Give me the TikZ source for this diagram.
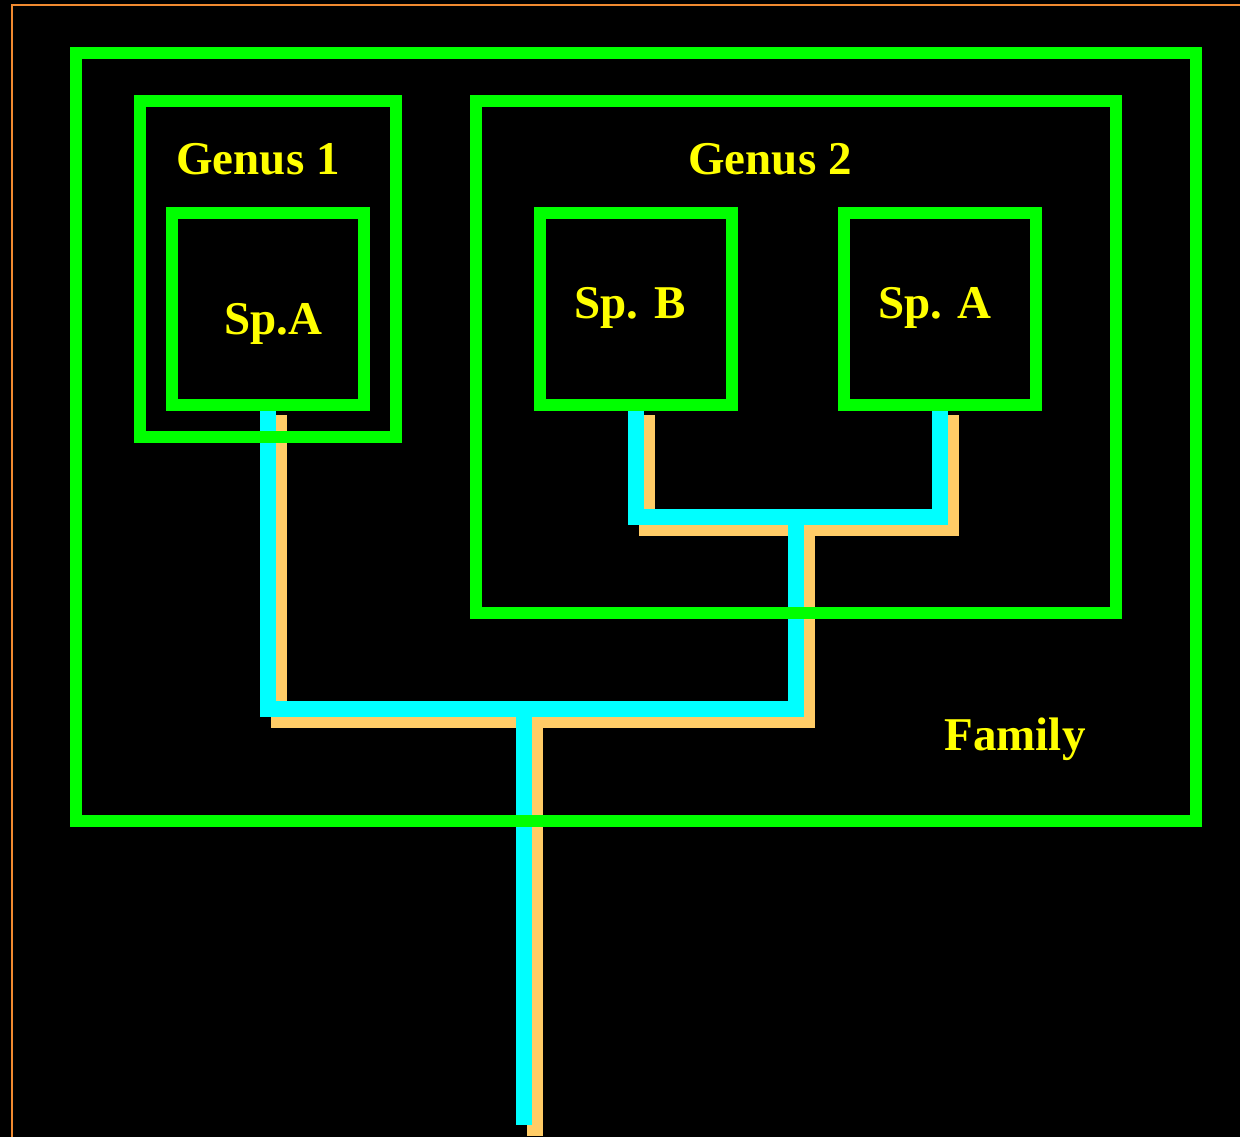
\documentclass[tikz,border=0pt]{standalone}
\usepackage{fontspec}
\setmainfont{Liberation Serif}
\usetikzlibrary{fit}
\pgfdeclarelayer{bglayer}
\pgfdeclarelayer{treelayer}
\pgfsetlayers{bglayer,treelayer,main}
\definecolor{grn}{HTML}{00FF00}
\definecolor{cyn}{HTML}{00FFFF}
\definecolor{org}{HTML}{FFCC66}
\definecolor{brd}{HTML}{F08A30}
\definecolor{ylw}{HTML}{FFFF00}
\tikzset{
  taxbox/.style={draw=grn, line width=6pt, inner sep=0pt, outer sep=0pt, line join=miter},
  lbl/.style={text=ylw, font=\fontsize{23.5}{28}\selectfont\bfseries, inner sep=0pt, anchor=base},
  cyanline/.style={draw=cyn, line width=8pt, line join=miter, line cap=butt},
  orangeline/.style={draw=org, line width=8pt, line join=miter, line cap=butt},
}
\begin{document}
\begin{tikzpicture}[x=0.5pt, y=-0.5pt]
\begin{pgfonlayer}{bglayer}
\fill[black] (0,0) rectangle (1240,1137);
\useasboundingbox (0,0) rectangle (1240,1137);
\draw[brd, line width=1.3pt] (12,1137) -- (12,5) -- (1240,5);
\end{pgfonlayer}

% boxes
\node[taxbox, fit={(76,53)(1196,821)}] (family) {};
\node[taxbox, fit={(140,101)(396,437)}] (genus1) {};
\node[taxbox, fit={(476,101)(1116,613)}] (genus2) {};
\node[taxbox, fit={(172,213)(364,405)}] (spA1) {};
\node[taxbox, fit={(540,213)(732,405)}] (spB) {};
\node[taxbox, fit={(844,213)(1036,405)}] (spA2) {};

% labels
\node[lbl] (g1lbl) at (258,175) {Genus 1};
\node[lbl] (g2lbl) at (770,175) {Genus 2};
\node[lbl] (spA1lbl) at (273,335) {Sp.A};
\node[lbl] (spBlbl) at (630,319) {Sp. B};
\node[lbl] (spA2lbl) at (935,319) {Sp. A};
\node[lbl] (famlbl) at (1015,750) {Family};

% junctions
\coordinate (g2join) at (796,517);
\coordinate (famjoin) at (524,709);
\coordinate (root) at (524,1125);

\begin{pgfonlayer}{treelayer}
% orange shadow tree (offset copy)
\draw[orangeline] ([shift={(11,10)}]spB.south) |- ([shift={(11,11)}]g2join) -| ([shift={(11,10)}]spA2.south);
\draw[orangeline] ([shift={(11,10)}]spA1.south) |- ([shift={(11,11)}]famjoin) -| ([shift={(11,11)}]g2join);
\draw[orangeline] ([shift={(11,11)}]famjoin) -- ([shift={(11,11)}]root);
% cyan tree
\draw[cyanline] (spB.south) |- (g2join) -| (spA2.south);
\draw[cyanline] (spA1.south) |- (famjoin) -| (g2join);
\draw[cyanline] (famjoin) -- (root);
\end{pgfonlayer}
\end{tikzpicture}
\end{document}
